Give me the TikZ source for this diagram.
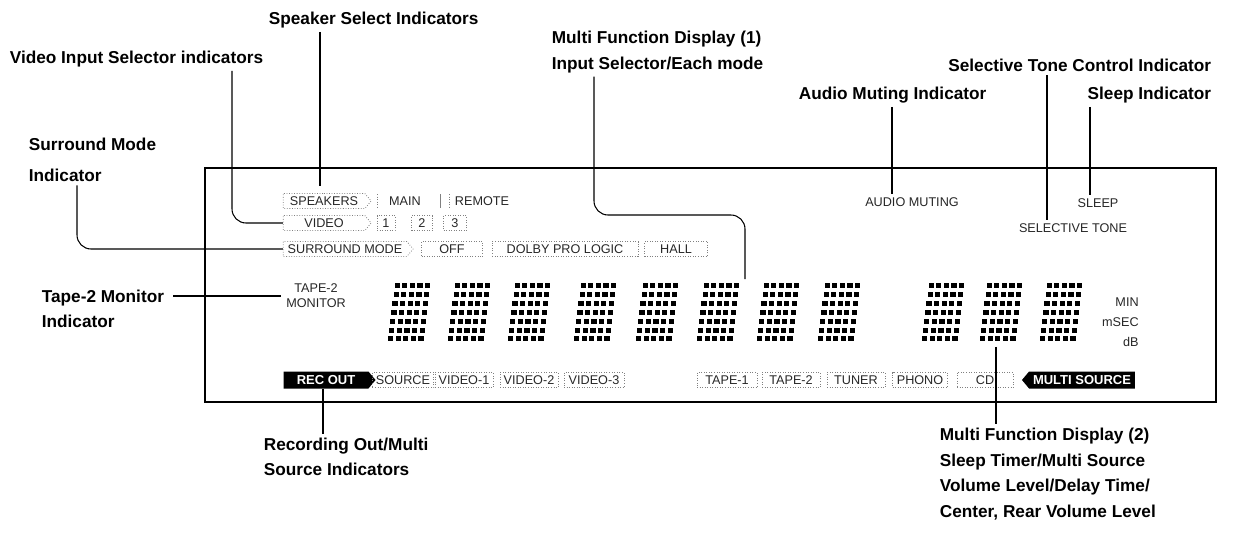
\documentclass[tikz,border=0pt]{standalone}
\usepackage{fontspec}
\setmainfont{Liberation Sans}
\usetikzlibrary{positioning,calc,shapes.symbols}

\tikzset{
  callout/.style={font=\bfseries\fontsize{9.8}{14.5}\selectfont, align=left, inner sep=2pt},
  lcd/.style={font=\fontsize{7.2}{8.6}\selectfont, text=black!85, inner sep=0pt},
  seg/.style={lcd, draw=black!50, densely dotted, line width=0.45pt, minimum height=0.3cm, inner xsep=2pt},
  tag/.style={seg, signal, signal pointer angle=100},
  blk/.style={signal, signal pointer angle=100, fill=black, text=white,
    font=\bfseries\fontsize{7.4}{8}\selectfont, minimum height=0.34cm, inner sep=1pt},
  lead/.style={line width=0.6pt},
  panel/.style={line width=0.8pt},
  cell/.style={minimum width=0.84cm, minimum height=1.2cm, inner sep=0pt}
}

\begin{document}
\begin{tikzpicture}[x=0.02cm, y=-0.02cm]
    \useasboundingbox (0,0) rectangle (1233,535);

    % Panel
    \draw[panel] (205,168) rectangle (1216,402);

    % Speaker / video / surround rows
    \node[tag, signal to=east, minimum width=1.76cm] (speakers) at (324,201) {SPEAKERS};
    \node[lcd] (main) at (405,201) {MAIN};
    \node[lcd] (remote) at (482,201) {REMOTE};
    \draw[black!50, densely dotted, line width=0.45pt] (377,194) -- (377,208);
    \draw[black!50, line width=0.45pt] (440,194) -- (440,208);
    \draw[black!50, densely dotted, line width=0.45pt] (449,194) -- (449,208);

    \node[tag, signal to=east, minimum width=1.76cm] (video) at (324,223) {VIDEO};
    \node[seg, minimum width=0.36cm] (vid1) at (386,223) {1};
    \node[seg, minimum width=0.42cm] (vid2) at (422,223) {2};
    \node[seg, minimum width=0.46cm] (vid3) at (455,223) {3};

    \node[tag, signal to=east, minimum width=2.6cm] (surround) at (345,249) {SURROUND MODE};
    \node[seg, minimum width=1.22cm] (off) at (452,249) {OFF};
    \node[seg, minimum width=2.92cm] (dolby) at (565,249) {DOLBY PRO LOGIC};
    \node[seg, minimum width=1.26cm] (hall) at (676,249) {HALL};

    % Top right indicators
    \node[lcd] (audio) at (912,202) {AUDIO MUTING};
    \node[lcd] (sleep) at (1098,203) {SLEEP};
    \node[lcd] (seltone) at (1073,228) {SELECTIVE TONE};

    % Tape-2 monitor and units
    \node[lcd, align=center] (tapeMon) at (316,296) {TAPE-2\\MONITOR};
    \node[lcd, anchor=east] (uMin) at (1139,302) {MIN};
    \node[lcd, anchor=east] (uMsec) at (1139,322) {mSEC};
    \node[lcd, anchor=east] (uDb) at (1139,342) {dB};

    % Dot matrix characters
    \foreach \x [count=\i] in {388,448,508,574,636,697,757,818,922,980,1040}{
        \node[cell] (ch\i) at (\x+21,313) {};
        \foreach \r in {0,...,6}
            \foreach \c in {0,...,4}
                \fill (\x+6.6-\r*1.1+\c*7.6, 283+\r*8.9) rectangle ++(5.2,5);
    }

    % Source row
    \node[blk, signal to=east, minimum width=1.84cm] (recout) at (326,380) {REC OUT};
    \node[seg, minimum width=1.14cm] (source) at (403,380) {SOURCE};
    \node[seg, minimum width=1.16cm] (video1) at (464,380) {VIDEO-1};
    \node[seg, minimum width=1.16cm] (video2) at (529,380) {VIDEO-2};
    \node[seg, minimum width=1.2cm] (video3) at (594,380) {VIDEO-3};
    \node[seg, minimum width=1.2cm] (tape1) at (727,380) {TAPE-1};
    \node[seg, minimum width=1.16cm] (tape2) at (791,380) {TAPE-2};
    \node[seg, minimum width=1.16cm] (tuner) at (856,380) {TUNER};
    \node[seg, minimum width=1.1cm] (phono) at (920,380) {PHONO};
    \node[seg, minimum width=1.12cm] (cd) at (985,380) {CD};
    \node[blk, signal to=west, minimum width=2.26cm] (multisrc) at (1082,380) {MULTI SOURCE};

    % Callouts
    \node[callout, anchor=west] (lblSpk) at (265,20) {Speaker Select Indicators};
    \node[callout, anchor=west] (lblVid) at (6,59) {Video Input Selector indicators};
    \node[callout, anchor=west] (lblMfdA) at (548,52) {Multi Function Display (1)\\Input Selector/Each mode};
    \node[callout, anchor=east] (lblSel) at (1215,65) {Selective Tone Control Indicator};
    \node[callout, anchor=west] (lblAudio) at (795,95) {Audio Muting Indicator};
    \node[callout, anchor=east] (lblSleep) at (1215,95) {Sleep Indicator};
    \node[callout, anchor=west] (lblSur) at (25,160) {Surround Mode\\[2.8pt]Indicator};
    \node[callout, anchor=west] (lblTape) at (38,309) {Tape-2 Monitor\\Indicator};
    \node[callout, anchor=west] (lblRec) at (260,457) {Recording Out/Multi\\Source Indicators};
    \node[callout, anchor=west] (lblMfdB) at (936,474) {Multi Function Display (2)\\Sleep Timer/Multi Source\\Volume Level/Delay Time/\\Center, Rear Volume Level};

    % Leaders
    \coordinate (spkX) at (320,186);
    \draw[lead] (lblSpk.south -| spkX) -- (spkX);
    \coordinate (vidX) at (232,0);
    \draw[lead, rounded corners=8pt] (lblVid.south -| vidX) |- (video.west);
    \coordinate (surX) at (77,0);
    \draw[lead, rounded corners=8pt] (lblSur.south -| surX) |- (surround.west);
    \draw[lead, shorten <=3pt, shorten >=3pt] (lblTape.east |- tapeMon.west) -- (tapeMon.west);
    \coordinate (mfdX) at (594,215);
    \coordinate (mfdY) at (745,215);
    \draw[lead, rounded corners=8pt, shorten >=2pt] (lblMfdA.south -| mfdX) -- (mfdX) -- (mfdY) -- (mfdY |- ch6.north);
    \coordinate (audX) at (892,0);
    \draw[lead, shorten >=2pt] (lblAudio.south -| audX) -- (audio.north -| audX);
    \coordinate (selX) at (1047,0);
    \draw[lead, shorten >=2pt] (lblSel.south -| selX) -- (seltone.north -| selX);
    \coordinate (slpX) at (1090,0);
    \draw[lead, shorten >=2pt] (lblSleep.south -| slpX) -- (sleep.north -| slpX);
    \coordinate (recX) at (323,0);
    \draw[lead] (recout.south -| recX) -- (lblRec.north -| recX);
    \coordinate (mfdBX) at (996,0);
    \draw[lead, shorten <=2pt] (ch10.south -| mfdBX) -- (lblMfdB.north -| mfdBX);
\end{tikzpicture}
\end{document}
